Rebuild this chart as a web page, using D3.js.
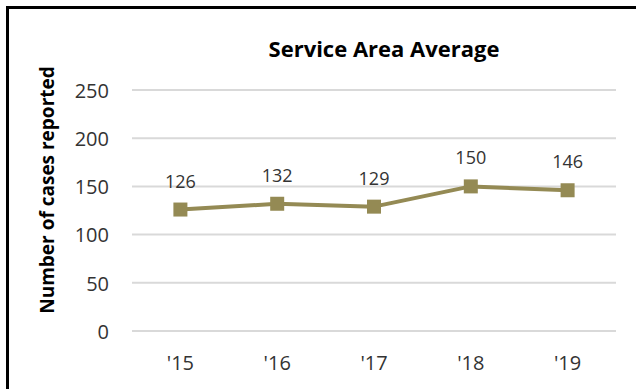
<!DOCTYPE html>
<html><head><meta charset="utf-8">
<script src="https://cdn.jsdelivr.net/npm/d3@7"></script>
<style>html,body{margin:0;padding:0;background:#fff;}svg{display:block;}</style>
</head><body>
<svg id="chart" width="636" height="389"></svg>
<script>
const categories = ["'15", "'16", "'17", "'18", "'19"];
const values = [126, 132, 129, 150, 146];
const yTicks = [0, 50, 100, 150, 200, 250];
const title = "Service Area Average";
const yTitle = "Number of cases reported";

const svg = d3.select("#chart");
const font = "'Open Sans', 'Noto Sans', sans-serif";
const color = "#948A54";

svg.append("rect").attr("x", 7.5).attr("y", 7.5).attr("width", 640).attr("height", 400)
  .attr("fill", "none").attr("stroke", "#000").attr("stroke-width", 3);

const x = d3.scaleBand().domain(categories).range([132, 616]).paddingInner(0).paddingOuter(0);
const y = d3.scaleLinear().domain([0, 250]).range([331, 90]);

// gridlines
svg.append("g").selectAll("line").data(yTicks).join("line")
  .attr("x1", 132).attr("x2", 616)
  .attr("y1", d => y(d)).attr("y2", d => y(d))
  .attr("stroke", "#d9d9d9").attr("stroke-width", 2);

// y axis
const yAxis = svg.append("g").attr("transform", "translate(116,0)")
  .call(d3.axisLeft(y).tickValues(yTicks).tickSize(0).tickPadding(0));
yAxis.select(".domain").remove();
yAxis.selectAll("text").attr("font-family", font).attr("font-size", 20).attr("fill", "#333").attr("dy", "0.36em").attr("x", -7);

// x axis
const xAxis = svg.append("g").attr("transform", "translate(0,331)")
  .call(d3.axisBottom(x).tickSize(0).tickPadding(0));
xAxis.select(".domain").remove();
xAxis.selectAll("text").attr("font-family", font).attr("font-size", 20).attr("fill", "#333").attr("dy", 0).attr("y", 39);

const cx = d => x(d) + x.bandwidth() / 2;

// line
const line = d3.line().x((d, i) => cx(categories[i])).y(d => y(d));
svg.append("path").datum(values).attr("d", line)
  .attr("fill", "none").attr("stroke", color).attr("stroke-width", 4).attr("stroke-linejoin", "round");

// markers
svg.append("g").selectAll("rect").data(values).join("rect")
  .attr("x", (d, i) => cx(categories[i]) - 7).attr("y", d => y(d) - 7)
  .attr("width", 14).attr("height", 14).attr("fill", color);

// data labels
svg.append("g").selectAll("text").data(values).join("text")
  .attr("x", (d, i) => cx(categories[i])).attr("y", d => y(d) - 22)
  .attr("text-anchor", "middle").attr("font-family", font).attr("font-size", 18).attr("fill", "#333")
  .text(d => d);

// title
svg.append("text").attr("x", 384).attr("y", 57).attr("text-anchor", "middle")
  .attr("font-family", font).attr("font-weight", "bold").attr("font-size", 22).attr("fill", "#000")
  .text(title);

// y title
svg.append("text").attr("transform", "translate(54,190) rotate(-90)").attr("text-anchor", "middle")
  .attr("font-family", font).attr("font-weight", "bold").attr("font-size", 19).attr("fill", "#000")
  .text(yTitle);
</script>
</body></html>
